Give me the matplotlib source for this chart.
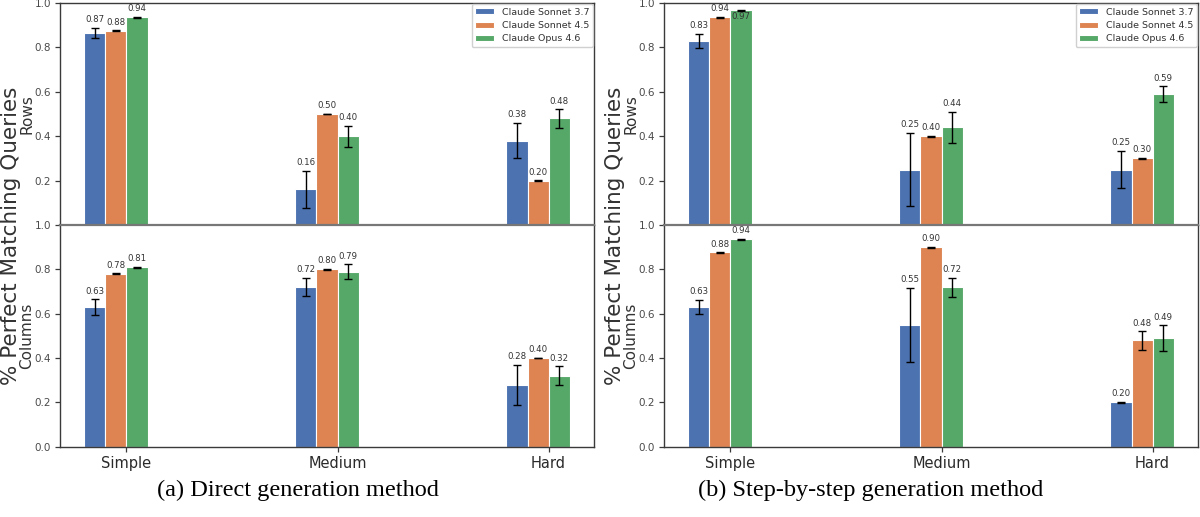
import matplotlib
matplotlib.use("Agg")
import matplotlib.pyplot as plt
import numpy as np

categories = ["Simple", "Medium", "Hard"]
models = ["Claude Sonnet 3.7", "Claude Sonnet 4.5", "Claude Opus 4.6"]
colors = ["#4C72B0", "#DD8452", "#55A868"]

# (a) Direct generation method
direct_rows = [[0.866, 0.16, 0.38], [0.876, 0.50, 0.20], [0.936, 0.40, 0.48]]
direct_rows_err = [[0.022, 0.085, 0.08], [0.002, 0.002, 0.002], [0.002, 0.047, 0.042]]
direct_cols = [[0.63, 0.72, 0.28], [0.78, 0.80, 0.40], [0.81, 0.79, 0.32]]
direct_cols_err = [[0.036, 0.042, 0.09], [0.002, 0.002, 0.002], [0.002, 0.033, 0.043]]

# (b) Step-by-step generation method
step_rows = [[0.83, 0.25, 0.25], [0.936, 0.40, 0.30], [0.968, 0.44, 0.59]]
step_rows_err = [[0.032, 0.165, 0.085], [0.002, 0.002, 0.002], [0.002, 0.07, 0.034]]
step_cols = [[0.63, 0.55, 0.20], [0.876, 0.90, 0.48], [0.936, 0.72, 0.49]]
step_cols_err = [[0.032, 0.166, 0.002], [0.002, 0.002, 0.042], [0.002, 0.043, 0.057]]

captions = ["(a) Direct generation method", "(b) Step-by-step generation method"]

W, H = 1200, 517
fig = plt.figure(figsize=(W / 100, H / 100), dpi=100)

tick_col = "#4a4a4a"
spine_col = "#3a3a3a"
width = 0.1
x = np.arange(len(categories))


def draw(ax, vals, errs, legend=False):
    for i, (v, e) in enumerate(zip(vals, errs)):
        pos = x - 0.15 + i * width
        ax.bar(pos, v, width, color=colors[i], edgecolor="white", linewidth=0.8,
               label=models[i], zorder=2)
        ax.errorbar(pos, v, yerr=e, fmt="none", ecolor="black", elinewidth=1.0,
                    capsize=3.2, capthick=1.0, zorder=3)
        for p, vv, ee in zip(pos, v, e):
            if vv + ee > 0.955:
                ax.annotate(f"{vv:.2f}", (p, vv), xytext=(0, -1.5), textcoords="offset points",
                            ha="center", va="top", fontsize=6.2, color="#333333", zorder=4)
            else:
                ax.annotate(f"{vv:.2f}", (p, vv + ee), xytext=(0, 2.5), textcoords="offset points",
                            ha="center", va="bottom", fontsize=6.2, color="#333333", zorder=4)
    ax.set_ylim(0, 1.0)
    ax.set_xlim(-0.315, 2.215)
    for s in ax.spines.values():
        s.set_color(spine_col)
        s.set_linewidth(1.0)
    ax.spines["top"].set_visible(False)
    ax.spines["right"].set_visible(False)
    ax.tick_params(axis="y", labelsize=7.5, colors=spine_col, labelcolor=tick_col,
                   length=3.5, width=0.9, pad=3)
    if legend:
        leg = ax.legend(loc="upper right", fontsize=6.8, frameon=True, borderaxespad=0.1,
                        handlelength=2.0, handleheight=0.6, labelspacing=0.45,
                        fancybox=True, framealpha=1.0, edgecolor="#d0d0d0")
        for t in leg.get_texts():
            t.set_color("#333333")


panel_x = [60, 664]
panel_w = 534
data = [(direct_rows, direct_rows_err, direct_cols, direct_cols_err),
        (step_rows, step_rows_err, step_cols, step_cols_err)]
caption_x = [298, 871]

for k in range(2):
    rows, rerr, cols, cerr = data[k]
    x0 = panel_x[k] / W
    w = panel_w / W
    ax_top = fig.add_axes([x0, (H - 225) / H, w, 222 / H])
    ax_bot = fig.add_axes([x0, (H - 446.7) / H, w, 221.7 / H])
    draw(ax_top, rows, rerr, legend=True)
    draw(ax_bot, cols, cerr)
    ax_top.spines["top"].set_visible(True)
    ax_top.spines["right"].set_visible(True)
    ax_bot.spines["right"].set_visible(True)
    ax_top.spines["bottom"].set_visible(False)
    ax_bot.spines["top"].set_visible(True)
    ax_bot.spines["top"].set_color("#777777")
    ax_bot.spines["top"].set_linewidth(1.6)
    ax_top.set_yticks([0.2, 0.4, 0.6, 0.8, 1.0])
    ax_top.set_xticks([])
    ax_bot.set_yticks([0.0, 0.2, 0.4, 0.6, 0.8, 1.0])
    ax_bot.set_xticks(x)
    ax_bot.set_xticklabels(categories)
    ax_bot.tick_params(axis="x", labelsize=10.5, colors=spine_col, labelcolor="#2a2a2a",
                       length=3.5, width=0.9, pad=3)
    sx = panel_x[k]
    fig.text((sx - 49) / W, (H - 236) / H, "% Perfect Matching Queries", rotation=90,
             ha="center", va="center", fontsize=15.5, color="#333333")
    fig.text((sx - 33) / W, (H - 114) / H, "Rows", rotation=90,
             ha="center", va="center", fontsize=11, color="#333333")
    fig.text((sx - 33) / W, (H - 336) / H, "Columns", rotation=90,
             ha="center", va="center", fontsize=11, color="#333333")
    fig.text(caption_x[k] / W, (H - 490) / H, captions[k], ha="center", va="center",
             fontsize=17.5, family="Liberation Serif", color="black")

fig.savefig("out.png", dpi=100)
